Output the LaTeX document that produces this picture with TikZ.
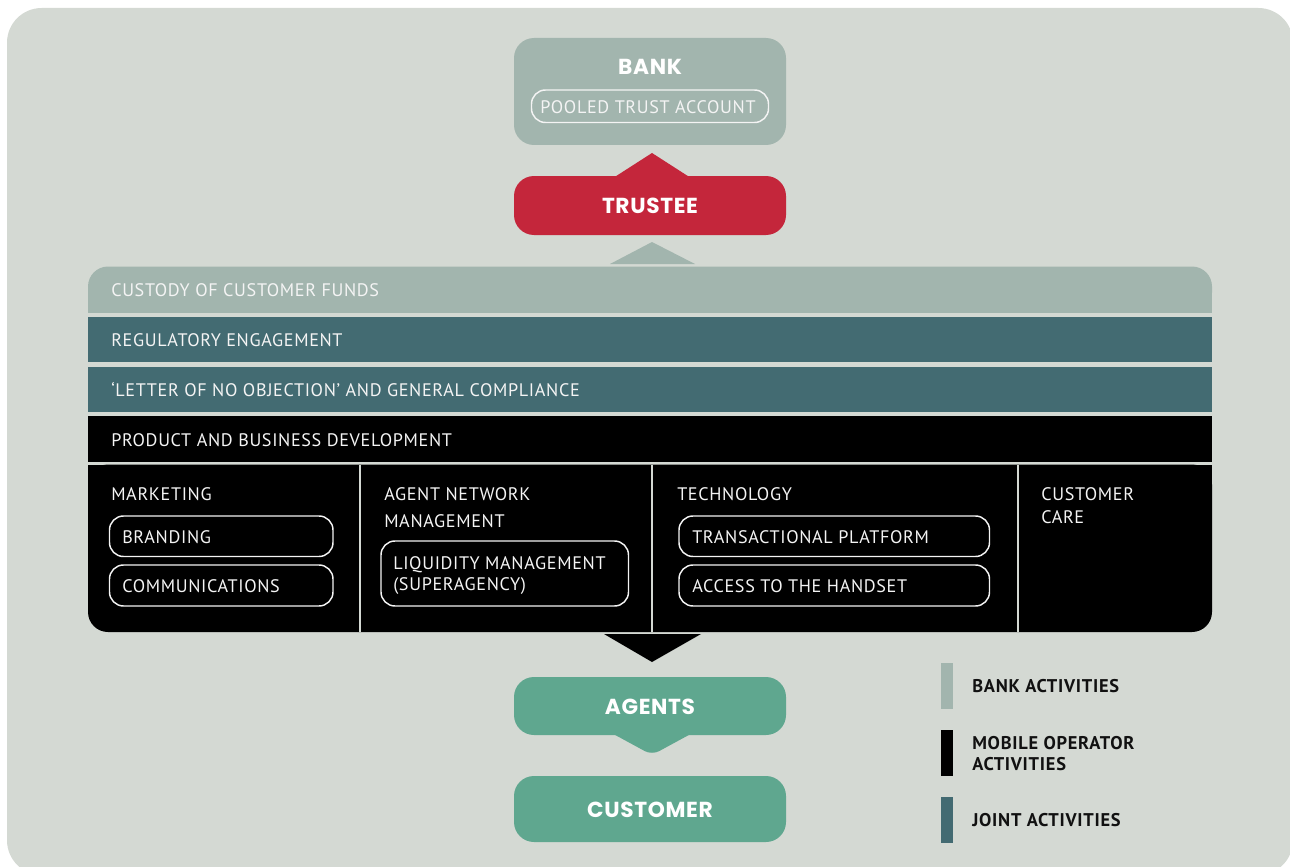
\documentclass[tikz,border=0pt]{standalone}
\usepackage{fontspec}
\setmainfont{PT Sans}
\newfontfamily\bodyfont{PT Sans}[LetterSpace=3.6]
\newfontfamily\legfont{PT Sans}[LetterSpace=4.0]
\newfontfamily\headfont{Poppins}[LetterSpace=3.0]
\definecolor{bgc}{HTML}{D4D9D3}
\definecolor{bankc}{HTML}{A2B5AE}
\definecolor{redc}{HTML}{C4263B}
\definecolor{teal}{HTML}{436B72}
\definecolor{greenc}{HTML}{5FA78F}
\definecolor{txtw}{HTML}{F4F4F4}
\definecolor{legc}{HTML}{111111}
\tikzset{
  bodytxt/.style={text=txtw, font=\bodyfont\fontsize{13.6}{16}\selectfont, inner sep=0pt, anchor=base west},
  headtxt/.style={text=white, font=\headfont\bfseries\fontsize{16.3}{19}\selectfont, inner sep=0pt, anchor=base},
  legtxt/.style={text=legc, font=\legfont\bfseries\fontsize{13.8}{16}\selectfont, inner sep=0pt, anchor=base west},
  pill/.style={draw=txtw, line width=1.1pt, rounded corners=10.5pt},
  bigbox/.style={rounded corners=15pt},
  divider/.style={draw=bgc, line width=2.2pt},
}
\begin{document}
\begin{tikzpicture}[x=0.75pt,y=-0.75pt]
\useasboundingbox (0,0) rectangle (1290,867);
% background
\fill[bgc, rounded corners=26pt] (7,8) rectangle (1293,875);

% BANK
\fill[bankc, bigbox] (514,38) rectangle (786,145);
\node[headtxt] (bank) at (650,75) {BANK};
\draw[pill] (531.5,90) rectangle (768.5,122.5);
\node[text=txtw, font=\bodyfont\fontsize{13.6}{16}\selectfont, inner sep=0pt, anchor=base] (pooled) at (648,113.3) {POOLED TRUST ACCOUNT};

% TRUSTEE
\coordinate (tapex) at (652,153);
\fill[redc] (610,180) -- (tapex) -- (694,180) -- cycle;
\fill[redc, bigbox] (514,176) rectangle (786,235);
\node[headtxt] (trustee) at (650,214) {TRUSTEE};

% gray arrow
\coordinate (gapex) at (652,242);
\fill[bankc] (610,264) -- (gapex) -- (695,264) -- cycle;

% custody band
\fill[bankc, bigbox] (88,266.5) rectangle (1212,312.5);
\fill[bankc] (88,290) rectangle (1212,312.5);
\node[bodytxt] (custody) at (111,296.8) {CUSTODY OF CUSTOMER FUNDS};

% joint bands
\fill[teal] (88,316.5) rectangle (1212,362);
\node[bodytxt] (reg) at (111,346.6) {REGULATORY ENGAGEMENT};
\fill[teal] (88,366.5) rectangle (1212,412);
\node[bodytxt] (letter) at (111,396.6) {‘LETTER OF NO OBJECTION’ AND GENERAL COMPLIANCE};

% product
\fill[black] (88,416) rectangle (1212,462);
\node[bodytxt] (product) at (111,446.6) {PRODUCT AND BUSINESS DEVELOPMENT};

% bottom section
\fill[black, bigbox] (88,464.5) rectangle (1212,632);
\fill[black] (88,464.5) rectangle (1212,600);
\draw[divider] (360,464.5) -- (360,632);
\draw[divider] (652,464.5) -- (652,632);
\draw[divider] (1018,464.5) -- (1018,632);

% marketing
\node[bodytxt] (marketing) at (111,500.8) {MARKETING};
\draw[pill] (109.5,516) rectangle (333,556.5);
\node[bodytxt] (branding) at (122,543.8) {BRANDING};
\draw[pill] (109.5,565) rectangle (333,606);
\node[bodytxt] (comm) at (122,592.8) {COMMUNICATIONS};

% agent network
\node[bodytxt] (agentnet) at (384,500.8) {AGENT NETWORK};
\node[bodytxt] (mgmt) at (384,527.6) {MANAGEMENT};
\draw[pill] (381,541) rectangle (628.5,606);
\node[bodytxt] (liq1) at (393,569.8) {LIQUIDITY MANAGEMENT};
\node[bodytxt] (liq2) at (393,590.8) {(SUPERAGENCY)};

% technology
\node[bodytxt] (tech) at (677,500.8) {TECHNOLOGY};
\draw[pill] (679,516) rectangle (989.5,556.5);
\node[bodytxt] (transact) at (692,543.8) {TRANSACTIONAL PLATFORM};
\draw[pill] (679,565) rectangle (989.5,606);
\node[bodytxt] (access) at (692,592.8) {ACCESS TO THE HANDSET};

% customer care
\node[bodytxt] (cust1) at (1041,500.8) {CUSTOMER};
\node[bodytxt] (cust2) at (1041,523) {CARE};

% black arrow down
\coordinate (bapex) at (652,662);
\fill[black] (604,634) -- (701,634) -- (bapex) -- cycle;

% AGENTS
\fill[greenc, rounded corners=6pt] (606,730) -- (652,755) -- (698,730) -- cycle;
\fill[greenc, bigbox] (514,677) rectangle (786,735);
\node[headtxt] (agents) at (650,714.3) {AGENTS};

% CUSTOMER
\fill[greenc, bigbox] (514,776) rectangle (786,842);
\node[headtxt] (customer) at (650,817.3) {CUSTOMER};

% legend
\fill[bankc] (941,663.3) rectangle (953,709);
\node[legtxt] (lbank) at (972,692.7) {BANK ACTIVITIES};
\fill[black] (941,730) rectangle (953,775.7);
\node[legtxt] (lmob1) at (972,749.3) {MOBILE OPERATOR};
\node[legtxt] (lmob2) at (972,770.7) {ACTIVITIES};
\fill[teal] (941,796.7) rectangle (953,842.7);
\node[legtxt] (ljoint) at (972,826.7) {JOINT ACTIVITIES};
\end{tikzpicture}
\end{document}
